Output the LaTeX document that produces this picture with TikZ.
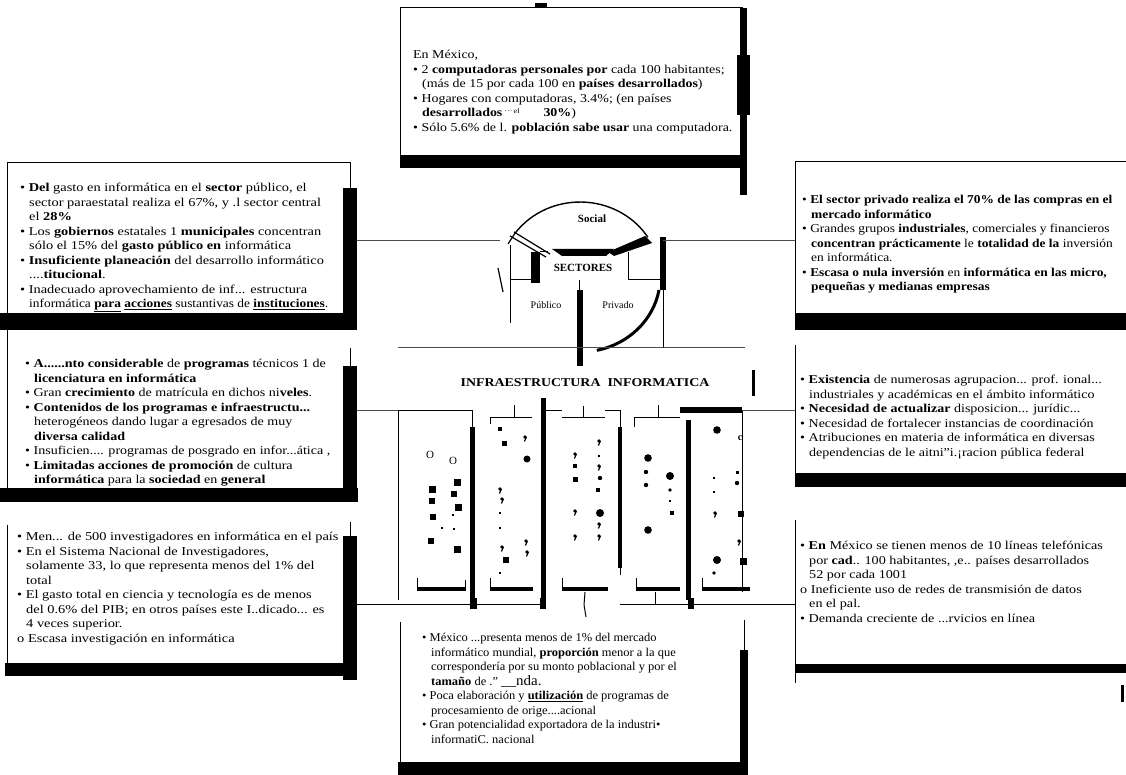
\documentclass[tikz,border=0pt]{standalone}
\usepackage{graphicx}
\usepackage{fontspec}
\setmainfont{Liberation Serif}
\newcommand\myind{\hspace*{9pt}}
\newcommand\sqd[3]{\fill (#1-#3,#2-#3) rectangle (#1+#3,#2+#3);}
\newcommand\bdot[3]{\fill (#1,#2) circle (#3);}
\newcommand\cmm[2]{\fill (#1,#2) circle (1.8); \draw[line width=1.2pt] (#1+1.4,#2) -- (#1-0.6,#2+4.5);}
\begin{document}
\begin{tikzpicture}[x=1pt,y=-1pt,
  txt/.style={anchor=north west, inner sep=0pt, align=left, font=\fontsize{12}{14.5}\selectfont\addfontfeature{FakeStretch=#1}},
  txt/.default=1,
  thinl/.style={line width=1pt},
  conn/.style={line width=0.9pt, draw=black!70},
  lbl/.style={inner sep=0pt, font=\fontsize{11}{13}\selectfont\bfseries}]
\useasboundingbox (0,0) rectangle (1126,775);

% ---------------- top box
\draw[thinl] (400,168) -- (400,8) -- (743,8);
\fill (535,3) rectangle (547,8);
\fill (400,155) rectangle (743,168);
\fill (740,8) rectangle (747,195);
\fill (737,55) rectangle (750,115);
\node[txt=1.16] (top) at (413,50) {En México,\\
• 2 \textbf{computadoras personales por} cada 100 habitantes;\\
\myind(más de 15 por cada 100 en \textbf{países desarrollados})\\
• Hogares con computadoras, 3.4\%; (en países\\
\myind\textbf{desarrollados}\,\raisebox{3pt}{\scriptsize ···\,el}\qquad\textbf{30\%})\\
• Sólo 5.6\% de l. \textbf{población sabe usar} una computadora.};

% ---------------- left box 1
\draw[thinl] (7,313) -- (7,163) -- (350,163) -- (350,190);
\fill (0,313) rectangle (357,330);
\fill (343,188) rectangle (357,330);
\node[txt=1.2] (lb1) at (20,183) {• \textbf{Del} gasto en informática en el \textbf{sector} público, el\\
\myind sector paraestatal realiza el 67\%, y .l sector central\\
\myind el \textbf{28\%}\\
• Los \textbf{gobiernos} estatales 1 \textbf{municipales} concentran\\
\myind sólo el 15\% del \textbf{gasto público en} informática\\
• \textbf{Insuficiente planeación} del desarrollo informático\\
\myind ....\textbf{titucional}.\\
• Inadecuado aprovechamiento de inf... estructura\\
\myind\scalebox{0.93}[1]{informática \underline{\textbf{para}} \underline{\textbf{acciones}} sustantivas de \underline{\textbf{instituciones}}.}};

% ---------------- right box 1
\draw[thinl] (1126,162) -- (795,162) -- (795,330);
\fill (795,313) rectangle (1126,330);
\node[txt=1.12] (rb1) at (802,195) {• \textbf{El sector privado realiza el 70\% de las compras en el}\\
\myind\textbf{mercado informático}\\
• Grandes grupos \textbf{industriales}, comerciales y financieros\\
\myind\textbf{concentran prácticamente} le \textbf{totalidad de la} inversión\\
\myind en informática.\\
• \textbf{Escasa o nula inversión} en \textbf{informática en las micro,}\\
\myind\textbf{pequeñas y medianas empresas}};

% ---------------- left box 2
\draw[thinl] (7,330) -- (7,490);
\draw[thinl] (350,348) -- (350,368);
\fill (0,488) rectangle (358,502);
\fill (343,366) rectangle (357,502);
\node[txt=1.17] (lb2) at (25,359) {• \textbf{A......nto considerable} de \textbf{programas} técnicos 1 de\\
\myind\textbf{licenciatura en informática}\\
• Gran \textbf{crecimiento} de matrícula en dichos ni\textbf{veles}.\\
• \textbf{Contenidos de los programas e infraestructu...}\\
\myind heterogéneos dando lugar a egresados de muy\\
\myind\textbf{diversa calidad}\\
• Insuficien.... programas de posgrado en infor...ática ,\\
• \textbf{Limitadas acciones de promoción} de cultura\\
\myind\textbf{informática} para la \textbf{sociedad} en \textbf{general}};

% ---------------- right box 2
\draw[thinl] (795,345) -- (795,487);
\fill (795,473) rectangle (1126,487);
\node[txt=1.17] (rb2) at (800,375) {• \textbf{Existencia} de numerosas agrupacion... prof. ional...\\
\myind industriales y académicas en el ámbito informático\\
• \textbf{Necesidad de actualizar} disposicion... jurídic...\\
• Necesidad de fortalecer instancias de coordinación\\
• Atribuciones en materia de informática en diversas\\
\myind dependencias de le aitni"i.¡racion pública federal};

% ---------------- left box 3
\draw[thinl] (7,525) -- (7,665);
\draw[thinl] (350,522) -- (350,538);
\fill (5,663) rectangle (345,676);
\fill (343,536) rectangle (357,680);
\node[txt=1.2] (lb3) at (17,532) {• Men... de 500 investigadores en informática en el país\\
• En el Sistema Nacional de Investigadores,\\
\myind solamente 33, lo que representa menos del 1\% del\\
\myind total\\
• El gasto total en ciencia y tecnología es de menos\\
\myind del 0.6\% del PIB; en otros países este I..dicado... es\\
\myind 4 veces superior.\\
o Escasa investigación en informática};

% ---------------- right box 3
\draw[thinl] (795,520) -- (795,683);
\fill (795,664) rectangle (1126,673);
\fill (1121,685) rectangle (1124,702);
\node[txt=1.18] (rb3) at (800,541) {• \textbf{En} México se tienen menos de 10 líneas telefónicas\\
\myind por \textbf{cad}.. 100 habitantes, ,e.. países desarrollados\\
\myind 52 por cada 1001\\
o Ineficiente uso de redes de transmisión de datos\\
\myind en el pal.\\
• Demanda creciente de ...rvicios en línea};

% ---------------- bottom box
\draw[thinl] (400,622) -- (400,775);
\draw[thinl] (744,620) -- (744,652);
\fill (398,762) rectangle (748,775);
\fill (740,650) rectangle (748,775);
\node[txt=1.04] (bot) at (422,633) {• México ...presenta menos de 1\% del mercado\\
\myind informático mundial, \textbf{proporción} menor a la que\\
\myind correspondería por su monto poblacional y por el\\
\myind\textbf{tamaño} de ." {\Large\_\_nda.}\\
• Poca elaboración y \underline{\textbf{utilización}} de programas de\\
\myind procesamiento de orige....acional\\
• Gran potencialidad exportadora de la industri•\\
\myind informatiC. nacional};

% ---------------- sectors circle
\coordinate (cc) at (580,277);
\draw[line width=1.4pt] (514.5,234) arc[start angle=145,end angle=32,x radius=80pt,y radius=75pt];
\draw[line width=3pt] (659,290) arc[start angle=-10,end angle=-78,x radius=80pt,y radius=75pt];
\draw[line width=1.2pt] (498,268) -- (503,292);
\draw[line width=1.2pt] (514,232) -- (550,254);
\draw[line width=1.2pt] (510,236) -- (546,257);
\draw[line width=1.2pt] (514.5,234) -- (508,244);
\fill (645,236) -- (652,243) -- (614,256) -- (608,252) -- cycle;
\fill (552,249) -- (614,249) -- (606,256) -- (562,256) -- cycle;
\fill (531,252) rectangle (540,283);
\draw[thinl] (540,252) -- (548,252);
\draw[thinl] (628,252) -- (628,280);
\draw[thinl] (510,245) -- (510,323);
\draw[thinl] (510,280) -- (531,280);
\draw[thinl] (628,280) -- (663,280);
\draw[thinl] (579,280) -- (579,292);
\fill (577,290) rectangle (583,366);
\fill (660,237) rectangle (666,290);
\draw[thinl] (663,290) -- (663,347);
\node[lbl] (social) at (592,219) {Social};
\node[lbl] (sect) at (583,268) {SECTORES};
\node[inner sep=0pt, font=\fontsize{10}{12}\selectfont] (pub) at (546,305) {Público};
\node[inner sep=0pt, font=\fontsize{10}{12}\selectfont] (priv) at (618,305) {Privado};

% connectors
\coordinate (l1e) at (357,240);
\coordinate (cw) at (500,240);
\coordinate (ce) at (663,240);
\coordinate (r1w) at (795,240);
\draw[conn] (l1e) -- (cw);
\draw[conn] (ce) -- (r1w);
\draw[conn] (398,347) -- (745,347);

% ---------------- infrastructure
\node[inner sep=0pt, font=\fontsize{12}{14}\selectfont\bfseries\addfontfeature{FakeStretch=1.16}] (infra) at (585,383) {INFRAESTRUCTURA\ \ INFORMATICA};
\fill (752,370) rectangle (755,396);

% column frames
\draw[thinl] (398,410) -- (472,410) -- (472,428);
\draw[thinl] (398,410) -- (398,600);
\fill (470,427) rectangle (475,600);
\draw[thinl] (490,424) -- (490,417) -- (532,417);
\draw[thinl] (514,405) -- (514,417);
\fill (541,398) rectangle (546,600);
\draw[thinl] (546,410) -- (562,410);
\draw[thinl] (562,417) -- (605,417);
\draw[thinl] (583,406) -- (583,417);
\draw[thinl] (605,410) -- (620,410) -- (620,428);
\fill (618,427) rectangle (622,568);
\draw[thinl] (620,568) -- (620,575);
\draw[thinl] (634,427) -- (634,417) -- (680,417);
\draw[thinl] (658,405) -- (658,417);
\fill (686,420) rectangle (691,600);
\fill (680,407) rectangle (742,413);
\draw[thinl] (742,410) -- (742,592);
\draw[conn] (742,410) -- (765,410);
% bottom brackets
\foreach \a/\b in {417/465, 490/533, 562/608, 636/680, 702/750}{
  \fill (\a,587) rectangle (\b,591);
  \draw[thinl] (\a,578) -- (\a,591);
}
\draw[thinl] (465,580) -- (465,591);

% dots col1
\node[inner sep=0pt, font=\fontsize{11}{12}\selectfont] (o1) at (430,455) {O};
\node[inner sep=0pt, font=\fontsize{11}{12}\selectfont] (o2) at (453,461) {O};
\sqd{432}{489}{3.5} \sqd{457}{482}{3.5} \sqd{432}{501}{3} \sqd{454}{494}{3}
\sqd{458}{507}{3.5} \sqd{433}{517}{3} \sqd{453}{515}{1.2} \sqd{442}{528}{1.2}
\sqd{454}{529}{1.2} \sqd{431}{541}{3} \sqd{457}{549}{3.5}
% col2
\sqd{500}{429}{1.8} \sqd{504}{443}{2.5} \cmm{525}{437} \bdot{527}{459}{3.5}
\cmm{500}{489} \cmm{502}{499} \sqd{500}{513}{1.3} \sqd{500}{528}{1.3}
\cmm{526}{541} \cmm{502}{547} \cmm{527}{552} \sqd{506}{560}{3} \sqd{500}{573}{1.3}
% col3
\cmm{599}{441} \sqd{599}{456}{1.2} \cmm{575}{454} \cmm{599}{466} \sqd{575}{466}{2}
\sqd{575}{479}{2.5} \bdot{600}{478}{2.2} \sqd{598}{490}{1.8} \cmm{575}{511}
\bdot{600}{513}{4} \cmm{599}{524} \cmm{575}{536} \cmm{599}{536}
% col4
\bdot{648}{458}{3.8} \bdot{646}{472}{2.2} \bdot{646}{485}{2.2} \bdot{670}{476}{4}
\bdot{670}{490}{1.8} \sqd{670}{501}{1} \sqd{672}{513}{2} \bdot{648}{530}{3.8}
% col5
\bdot{717}{430}{3.8}
\node[inner sep=0pt, font=\fontsize{10}{12}\selectfont\bfseries] (c5) at (740,438) {c};
\sqd{714}{478}{1.3} \sqd{737}{472}{1.5} \bdot{737}{483}{2.2} \sqd{714}{492}{1.3}
\cmm{715}{513} \sqd{741}{514}{3} \cmm{739}{541} \bdot{717}{560}{4}
\sqd{743}{561}{3.5} \bdot{714}{573}{1.8}

% lower connectors to bottom box
\coordinate (l2e) at (357,410);
\coordinate (c1w) at (398,410);
\draw[conn] (l2e) -- (c1w);
\coordinate (l3e) at (357,604);
\coordinate (r3w) at (795,604);
\draw[thinl] (l3e) -- (470,604);
\draw[thinl] (477,604) -- (540,604);
\draw[thinl] (620,604) -- (688,604);
\draw[thinl] (694,604) -- (r3w);
\fill (470,598) rectangle (477,609);
\fill (540,598) rectangle (546,609);
\fill (688,598) rectangle (694,609);
\draw[thinl] (585,592) -- (584,605) -- (586,617);
\draw[thinl] (655,592) -- (655,605);
\coordinate (r2w) at (795,410);
\draw[conn] (765,410) -- (r2w);
\end{tikzpicture}
\end{document}
